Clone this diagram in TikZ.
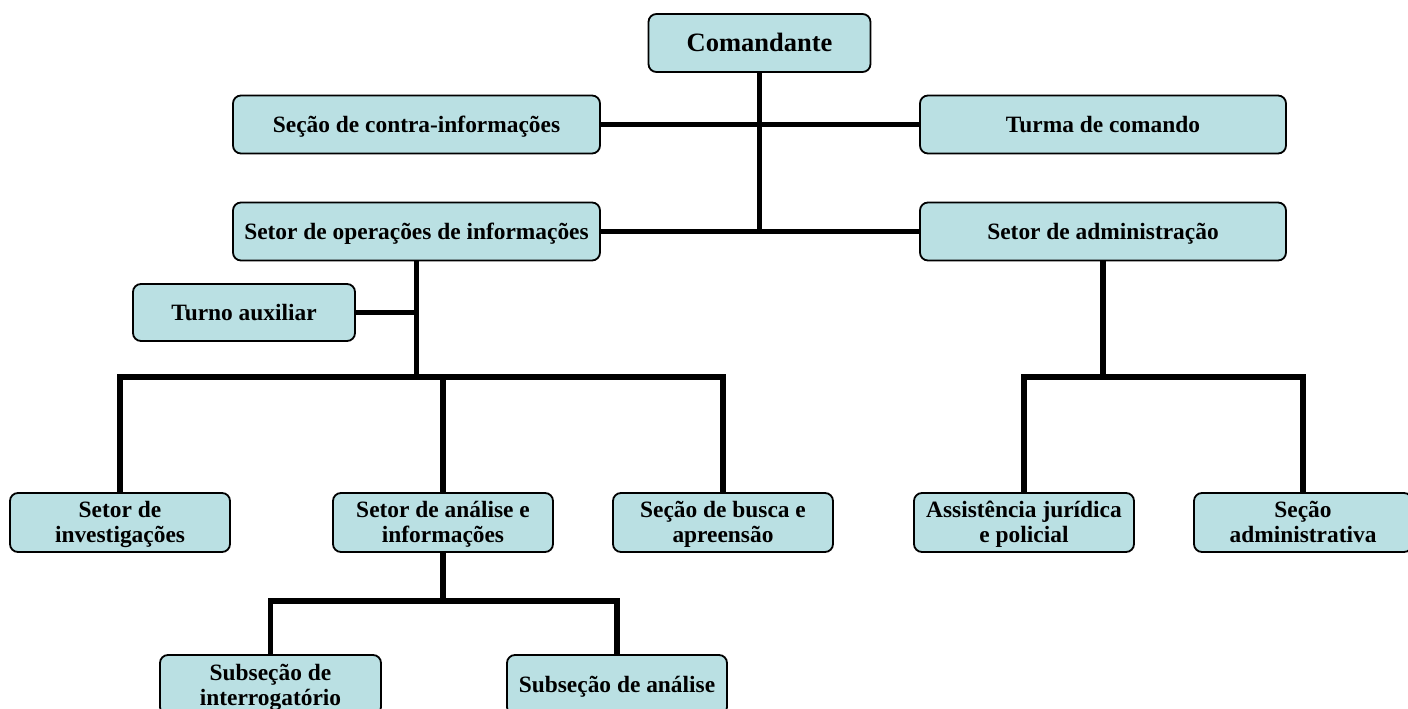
\documentclass[tikz,border=0pt]{standalone}
\usepackage{fontspec}
\setmainfont{Liberation Serif}
\definecolor{boxfill}{RGB}{186,224,227}
\begin{document}
\begin{tikzpicture}[x=1pt,y=-1pt,
  orgbox/.style={draw=black, line width=1.8pt, fill=boxfill, rounded corners=8pt,
    inner sep=0pt, align=center, font=\bfseries\fontsize{23.4}{25}\selectfont,
    text height=15.5pt, text depth=0pt},
  twoline/.style={text height=40.5pt, text depth=0pt},
  conn/.style={line width=5.5pt, line join=miter}]
\useasboundingbox (0,0) rectangle (1408,709);
\begin{scope}
\clip (0,0) rectangle (1408,709);
% nodes
\node[orgbox, minimum width=222pt, minimum height=58pt, font=\bfseries\fontsize{26.5}{28}\selectfont, text height=17.5pt] (cmd) at (759.5,43) {Comandante};
\node[orgbox, minimum width=367pt, minimum height=58pt] (sci) at (416.5,124.5) {Seção de contra-informações};
\node[orgbox, minimum width=366pt, minimum height=58pt] (tc) at (1103,124.5) {Turma de comando};
\node[orgbox, minimum width=367pt, minimum height=58pt] (sop) at (416.5,231.5) {Setor de operações de informações};
\node[orgbox, minimum width=366pt, minimum height=58pt] (sad) at (1103,231.5) {Setor de administração};
\node[orgbox, minimum width=222pt, minimum height=57pt] (ta) at (244,312.5) {Turno auxiliar};
\node[orgbox, twoline, minimum width=220pt, minimum height=59pt] (si) at (120,522.5) {Setor de\\investigações};
\node[orgbox, twoline, minimum width=220pt, minimum height=59pt] (sa) at (443,522.5) {Setor de análise e\\informações};
\node[orgbox, twoline, minimum width=220pt, minimum height=59pt] (sb) at (723,522.5) {Seção de busca e\\apreensão};
\node[orgbox, twoline, minimum width=220pt, minimum height=59pt] (aj) at (1024,522.5) {Assistência jurídica\\e policial};
\node[orgbox, twoline, minimum width=218pt, minimum height=59pt] (sadm) at (1303,522.5) {Seção\\administrativa};
\node[orgbox, twoline, minimum width=221pt, minimum height=60pt] (sint) at (270.5,685) {Subseção de\\interrogatório};
\node[orgbox, minimum width=220pt, minimum height=60pt] (san) at (617,685) {Subseção de análise};
% junctions
\coordinate (j1) at (416.5,377);
\coordinate (j2) at (1103,377);
\coordinate (j3) at (443,601);
% connectors
\draw[conn] (sci.east) -- (tc.west);
\draw[conn] (sop.east) -- (sad.west);
\draw[conn] (cmd.south) -- (cmd.south |- sop.east);
\draw[conn] (sop.south) -- (j1);
\draw[conn] (ta.east) -- (ta.east -| j1);
\draw[conn] (si.north) -- (si.north |- j1) -- (sb.north |- j1) -- (sb.north);
\draw[conn] (sa.north |- j1) -- (sa.north);
\draw[conn] (sad.south) -- (j2);
\draw[conn] (aj.north) -- (aj.north |- j2) -- (sadm.north |- j2) -- (sadm.north);
\draw[conn] (sa.south) -- (j3);
\draw[conn] (sint.north) -- (sint.north |- j3) -- (san.north |- j3) -- (san.north);
\end{scope}
\end{tikzpicture}
\end{document}
